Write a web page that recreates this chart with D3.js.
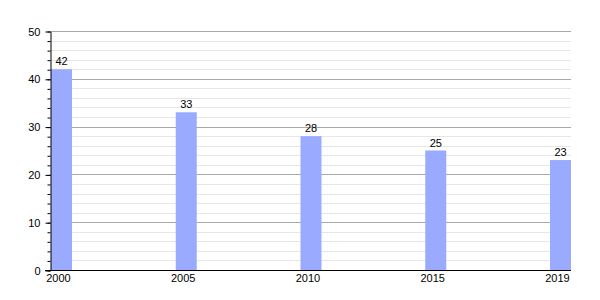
<!DOCTYPE html>
<html>
<head>
<meta charset="utf-8">
<script src="https://cdn.jsdelivr.net/npm/d3@7"></script>
<style>
  body { margin: 0; background: #fff; }
  text { font-family: "Liberation Sans", Arial, sans-serif; font-size: 11px; fill: #000; }
</style>
</head>
<body>
<div id="chart"></div>
<script>
// data
var years = ["2000", "2005", "2010", "2015", "2019"];
var values = [42, 33, 28, 25, 23];
var yTicks = [0, 10, 20, 30, 40, 50];

var width = 600, height = 300;
var plotLeft = 50, plotRight = 571, plotTop = 31, plotBottom = 270;
var barW = 21;

var svg = d3.select("#chart")
    .append("svg")
    .attr("width", width)
    .attr("height", height);

var x = d3.scalePoint().domain(years).range([plotLeft + 1 + barW / 2, plotRight - barW / 2]);
var y = d3.scaleLinear().domain([0, 50]).range([plotBottom, plotTop]);

// minor grid lines every 2
svg.append("g")
    .selectAll("line")
    .data(d3.range(2, 51, 2).filter(function (d) { return d % 10 !== 0; }))
    .enter().append("line")
    .attr("x1", plotLeft).attr("x2", plotRight)
    .attr("y1", function (d) { return Math.round(y(d)) + 0.5; })
    .attr("y2", function (d) { return Math.round(y(d)) + 0.5; })
    .attr("stroke", "#e6e6e6");

// major grid lines
svg.append("g")
    .selectAll("line")
    .data(yTicks.slice(1))
    .enter().append("line")
    .attr("x1", plotLeft).attr("x2", plotRight)
    .attr("y1", function (d) { return Math.round(y(d)) + 0.5; })
    .attr("y2", function (d) { return Math.round(y(d)) + 0.5; })
    .attr("stroke", "#a8a8a8");

// bars
svg.append("g")
    .selectAll("rect")
    .data(values)
    .enter().append("rect")
    .attr("x", function (d, i) { return x(years[i]) - barW / 2; })
    .attr("y", function (d) { return y(d); })
    .attr("width", barW)
    .attr("height", function (d) { return y(0) - y(d); })
    .attr("fill", "#99aaff");

// value labels
svg.append("g")
    .selectAll("text")
    .data(values)
    .enter().append("text")
    .attr("x", function (d, i) { return x(years[i]); })
    .attr("y", function (d) { return y(d) - 4; })
    .attr("text-anchor", "middle")
    .text(function (d) { return d; });

// y axis minor ticks
svg.append("g")
    .attr("transform", "translate(" + (plotLeft + 0.5) + ",0.5)")
    .call(d3.axisLeft(y).tickValues(d3.range(0, 51, 2)).tickSize(3).tickFormat(""))
    .call(function (g) { g.select(".domain").remove(); });

// y axis major
svg.append("g")
    .attr("transform", "translate(" + (plotLeft + 0.5) + ",0.5)")
    .call(d3.axisLeft(y).tickValues(yTicks).tickSize(5).tickSizeOuter(0))
    .call(function (g) {
        g.attr("font-family", null).attr("font-size", null);
        g.selectAll("text").attr("x", -10);
    });

// x axis
svg.append("line")
    .attr("x1", plotLeft - 5).attr("x2", plotRight)
    .attr("y1", plotBottom + 0.5).attr("y2", plotBottom + 0.5)
    .attr("stroke", "#000");

svg.append("g")
    .selectAll("text")
    .data(years)
    .enter().append("text")
    .attr("x", function (d) { return x(d) - 3; })
    .attr("y", plotBottom + 12)
    .attr("text-anchor", "middle")
    .text(function (d) { return d; });
</script>
</body>
</html>
